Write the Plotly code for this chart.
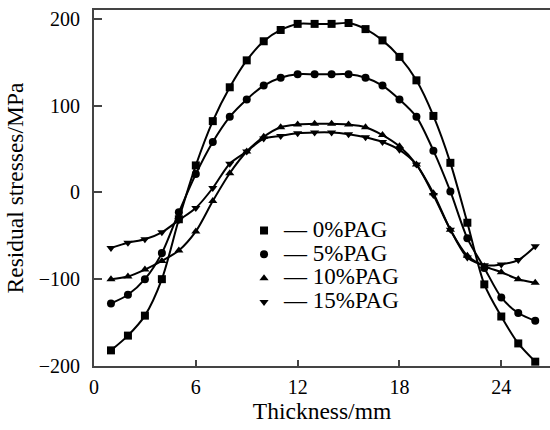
import plotly.graph_objects as go

thickness = list(range(1, 27))

pag0 = [-182, -165, -142, -100, -31, 31, 82, 121, 152, 174, 187, 194, 194, 194, 195, 188,
        175, 156, 129, 88, 34, -35, -106, -143, -174, -195]
pag5 = [-128, -118, -100, -70, -23, 21, 58, 87, 107, 123, 132, 136, 136, 136, 136, 132,
        123, 107, 87, 48, 1, -53, -87, -121, -139, -148]
pag10 = [-100, -97, -89, -79, -67, -45, -10, 22, 47, 64, 75, 78, 79, 79, 78, 75,
         66, 53, 32, -1, -43, -73, -85, -92, -100, -104]
pag15 = [-64, -58, -54, -46, -32, -18, 5, 33, 47, 62, 65, 68, 69, 69, 67, 63.5,
         58, 49, 32, -3, -43, -75, -84, -83, -78, -62]

series_names = ["0%PAG", "5%PAG", "10%PAG", "15%PAG"]
series_values = [pag0, pag5, pag10, pag15]
symbols = ["square", "circle", "triangle-up", "triangle-down"]

x_ticks = [0, 6, 12, 18, 24]
y_ticks = [-200, -100, 0, 100, 200]

FONT = "Liberation Serif"

fig = go.Figure()
for name, vals, sym in zip(series_names, series_values, symbols):
    fig.add_trace(go.Scatter(
        x=thickness, y=vals, mode="lines+markers",
        line=dict(color="black", width=2, shape="spline", smoothing=0.8),
        marker=dict(symbol=sym, size=8, color="black"),
        showlegend=False, name=name,
    ))
for name, sym in zip(series_names, symbols):
    fig.add_trace(go.Scatter(
        x=[None], y=[None], mode="markers",
        marker=dict(symbol=sym, size=8, color="black"),
        name="<span style='font-size:23px'>\u2014 " + name + "</span>",
        showlegend=True,
    ))

fig.update_layout(
    width=550, height=430,
    margin=dict(l=94, r=0, t=10, b=64),
    paper_bgcolor="white", plot_bgcolor="white",
    font=dict(family=FONT, size=20, color="black"),
    legend=dict(x=0.329, y=0.428, xanchor="left", yanchor="top",
                font=dict(family=FONT, size=16),
                bgcolor="rgba(0,0,0,0)", itemwidth=30, tracegroupgap=0),
    xaxis=dict(
        range=[0, 26.87], tickvals=x_ticks, ticks="inside", ticklen=6,
        tickcolor="#444", tickwidth=1.5, ticklabelstandoff=2,
        showline=True, linecolor="#444", linewidth=2, mirror=True,
        showgrid=False, zeroline=False, automargin=False,
        title=dict(text="Thickness/mm", font=dict(size=23.5), standoff=4),
    ),
    yaxis=dict(
        range=[-200, 210], tickvals=y_ticks, ticks="inside", ticklen=8,
        tickcolor="#444", tickwidth=1.5, ticklabelstandoff=8,
        showline=True, linecolor="#444", linewidth=2,
        showgrid=False, zeroline=False, automargin=False,
        tickformat="d",
        title=dict(text="Residual stresses/MPa", font=dict(size=23.5), standoff=8),
    ),
)

fig.write_html("out.html", config={"displayModeBar": False},
               post_script="document.body.style.margin='0';")
